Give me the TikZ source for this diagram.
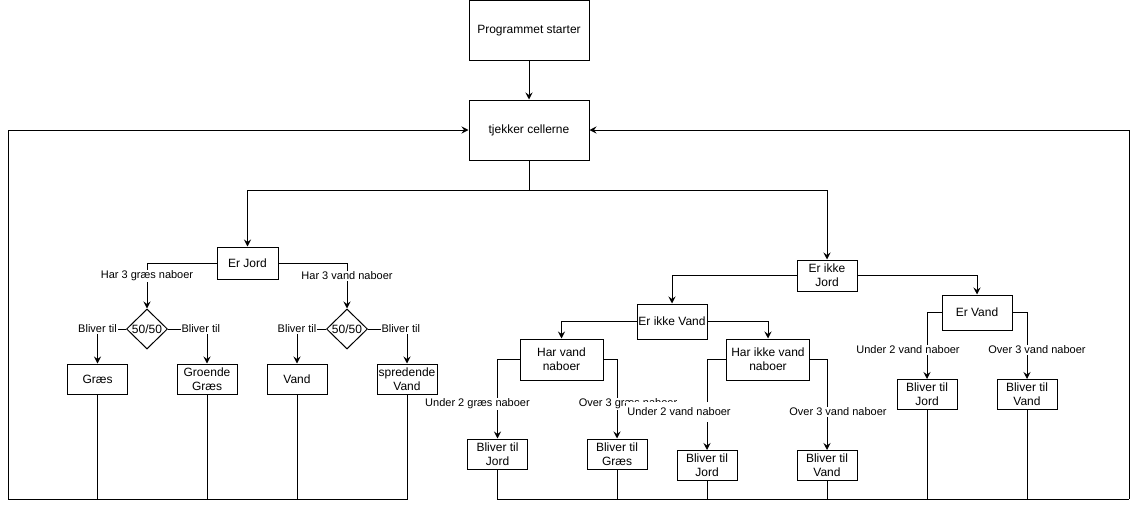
\documentclass[tikz,border=0pt]{standalone}
\usepackage{fontspec}
\setmainfont{Liberation Sans}
\usetikzlibrary{shapes.geometric,arrows.meta}

\begin{document}
\begin{tikzpicture}[x=1pt,y=-1pt,line width=1pt,
>={Stealth[length=7pt,width=7pt,inset=2.5pt]},
main node/.style = {draw,rectangle,align=center,inner sep=0pt,font=\fontsize{12}{14}\selectfont},
small node/.style = {main node,minimum width=60pt,minimum height=30pt},
choice node/.style = {draw,diamond,inner sep=0pt,minimum width=41pt,minimum height=40pt,font=\fontsize{12}{14}\selectfont},
label node/.style = {fill=white,inner sep=1pt,font=\fontsize{11}{13}\selectfont}]
\useasboundingbox (0,0) rectangle (1136,509);

\node[main node,minimum width=120pt,minimum height=60pt] (start) at (529,30.5) {Programmet starter};
\node[main node,minimum width=120pt,minimum height=60pt] (tjek) at (529,130) {tjekker cellerne};
\coordinate (split) at (529,190);
\coordinate (loopL) at (8,499);
\coordinate (loopR) at (1129,499);

\node[main node,minimum width=61pt,minimum height=32pt] (jord) at (247.5,263) {Er Jord};
\node[choice node] (d1) at (147,329) {50/50};
\node[choice node] (d2) at (347,329) {50/50};
\node[small node] (graes) at (97.5,379) {Græs};
\node[small node] (groende) at (207,379) {Groende\\Græs};
\node[small node] (vand) at (297,379) {Vand};
\node[small node] (spred) at (407,379) {spredende\\Vand};

\node[main node,minimum width=60pt,minimum height=31pt] (ikkejord) at (827,275.5) {Er ikke\\Jord};
\node[main node,minimum width=70pt,minimum height=35pt] (ikkevand) at (672,321.5) {Er ikke Vand};
\node[main node,minimum width=83pt,minimum height=41pt] (harvand) at (561.5,359.5) {Har vand\\naboer};
\node[main node,minimum width=83pt,minimum height=41pt] (harikke) at (768,359.5) {Har ikke vand\\naboer};
\node[main node,minimum width=70pt,minimum height=35pt] (ervand) at (977,312.5) {Er Vand};
\node[small node] (hvjord) at (497.5,454) {Bliver til\\Jord};
\node[small node] (hvgraes) at (617,454) {Bliver til\\Græs};
\node[small node] (hijord) at (707,465.5) {Bliver til\\Jord};
\node[small node] (hivand) at (827,465.5) {Bliver til\\Vand};
\node[small node] (evjord) at (927,394.5) {Bliver til\\Jord};
\node[small node] (evvand) at (1027,394.5) {Bliver til\\Vand};

\draw[->] (start) -- (tjek);
\draw (tjek) -- (split);
\draw[->] (split) -| (jord);
\draw[->] (split) -| (ikkejord);

\draw[->] (jord) -| node[label node,pos=0.64] {Har 3 græs naboer} (d1);
\draw[->] (jord) -| node[label node,pos=0.64] {Har 3 vand naboer} (d2);
\draw[->] (d1) -| node[label node,pos=0.5] {Bliver til} (graes);
\draw[->] (d1) -| node[label node,pos=0.42] {Bliver til} (groende);
\draw[->] (d2) -| node[label node,pos=0.5] {Bliver til} (vand);
\draw[->] (d2) -| node[label node,pos=0.42] {Bliver til} (spred);

\draw[->] (ikkejord) -| (ikkevand);
\draw[->] (ikkejord) -| (ervand);
\draw[->] (ikkevand) -| (harvand);
\draw[->] (ikkevand) -| (harikke);
\draw[->] (harvand) -| node[label node,pos=0.78,xshift=-20pt] {Under 2 græs naboer} (hvjord);
\draw[->] (harvand) -| node[label node,pos=0.78,xshift=11pt] {Over 3 græs naboer} (hvgraes);
\draw[->] (harikke) -| node[label node,pos=0.79,xshift=-28pt,inner ysep=6pt] {Under 2 vand naboer} (hijord);
\draw[->] (harikke) -| node[label node,pos=0.79,xshift=11pt] {Over 3 vand naboer} (hivand);
\draw[->] (ervand) -| node[label node,pos=0.78,xshift=-19pt] {Under 2 vand naboer} (evjord);
\draw[->] (ervand) -| node[label node,pos=0.78,xshift=10pt] {Over 3 vand naboer} (evvand);

\draw (graes) |- (loopL);
\draw (groende) |- (loopL);
\draw (vand) |- (loopL);
\draw (spred) |- (loopL);
\draw[->] (loopL) |- (tjek);
\draw (hvjord) |- (loopR);
\draw (hvgraes) |- (loopR);
\draw (hijord) |- (loopR);
\draw (hivand) |- (loopR);
\draw (evjord) |- (loopR);
\draw (evvand) |- (loopR);
\draw[->] (loopR) |- (tjek);
\end{tikzpicture}
\end{document}
